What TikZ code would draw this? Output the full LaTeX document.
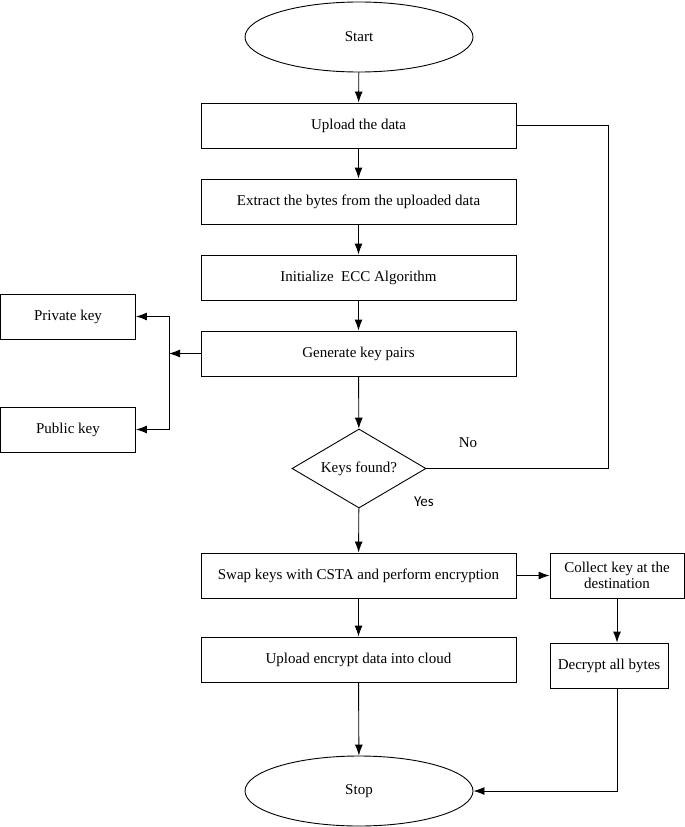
\documentclass[tikz,border=0pt]{standalone}
\usepackage{fontspec}
\setmainfont{Liberation Serif}
\newfontfamily\yesfont{Carlito}
\usetikzlibrary{shapes.geometric,arrows.meta}
\tikzset{
  stepbox/.style={draw,rectangle,minimum width=315,minimum height=45,inner sep=0,align=center},
  sidebox/.style={draw,rectangle,minimum width=135,minimum height=45,inner sep=0,align=center},
  termnode/.style={draw,ellipse,minimum width=228,minimum height=70,inner sep=0},
  arr/.style={-{Latex[length=11pt,width=8pt]}}
}
\begin{document}
\begin{tikzpicture}[x=1pt,y=-1pt,line width=0.9pt,font=\fontsize{15}{16}\selectfont]
  \useasboundingbox (0,0) rectangle (685,827);
  \node[termnode] (start) at (359,37) {Start};
  \node[stepbox] (up) at (358.5,125.5) {Upload the data};
  \node[stepbox] (ext) at (358.5,201.5) {Extract the bytes from the uploaded data};
  \node[stepbox] (init) at (358.5,277.5) {Initialize\ \ ECC Algorithm};
  \node[stepbox] (gen) at (358.5,353.5) {Generate key pairs};
  \node[sidebox] (priv) at (68,316.5) {Private key};
  \node[sidebox] (pub) at (68,429.5) {Public key};
  \node[draw,diamond,aspect=1.7,minimum width=134,minimum height=79,inner sep=0] (keys) at (359,468.5) {Keys found?};
  \node[stepbox] (swap) at (358.5,575.5) {Swap keys with CSTA and perform encryption};
  \node[sidebox,minimum width=134] (col) at (617,575.5) {Collect key at the\\destination};
  \node[sidebox,minimum width=118] (dec) at (609,665.5) {Decrypt all bytes};
  \node[stepbox] (upenc) at (358.5,659.5) {Upload encrypt data into cloud};
  \node[termnode] (stop) at (359,791) {Stop};
  \node (no) at (468,443) {No};
  \node (yes) at (424,502) {\yesfont Yes};
  \coordinate (br) at (169,353.5);
  \coordinate (nr) at (608,125.5);

  \foreach \a/\b in {start/up, up/ext, ext/init, init/gen, gen/keys, keys/swap, swap/upenc, upenc/stop, swap/col}
    \draw[arr] (\a) -- (\b);
  \draw[arr] (gen.west) -- (br);
  \draw[arr] (br) |- (priv.east);
  \draw[arr] (br) |- (pub.east);
  \draw (keys.east) -| (nr) -- (up.east);
  \draw[arr] (col.south) -- (col.south |- dec.north);
  \draw[arr] (col.south |- dec.south) |- (stop.east);
\end{tikzpicture}
\end{document}
